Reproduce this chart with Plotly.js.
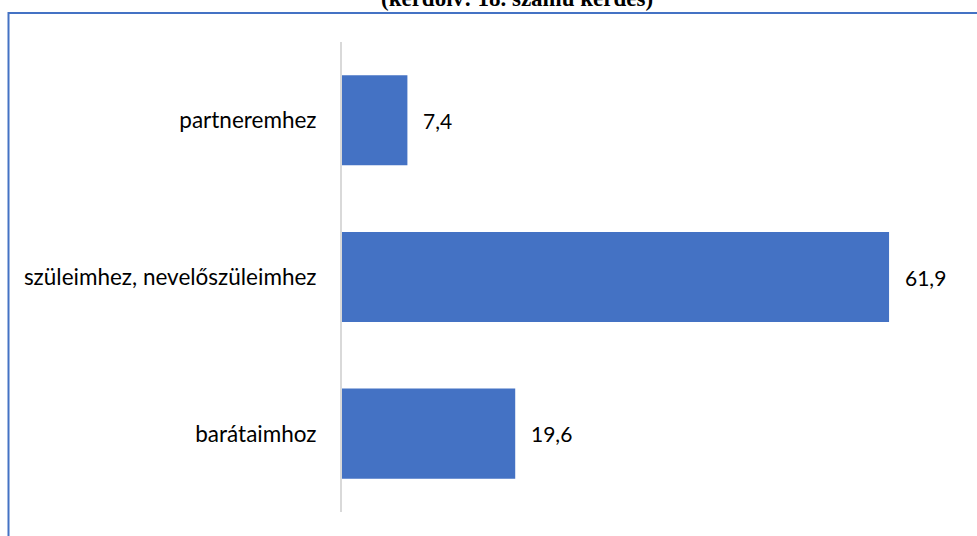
<!DOCTYPE html>
<html>
<head>
<meta charset="utf-8">
<script src="https://cdn.plot.ly/plotly-3.0.1.min.js"></script>
<style>html,body{margin:0;padding:0;background:#fff;}#chart{width:977px;height:536px;}</style>
</head>
<body>
<div id="chart"></div>
<script>
var categories = ["partneremhez", "szüleimhez, nevelőszüleimhez", "barátaimhoz"];
var values = [7.4, 61.9, 19.6];
var titleText = "(kérdőív: 18. számú kérdés)";

var W = 977, H = 536, L = 342, R = 19, T = 42, B = 24;
var PW = W - L - R, PH = H - T - B;
function px2x(p){ return (p - L) / PW; }
function py2y(p){ return (H - B - p) / PH; }

var labels = values.map(function(v){ return v.toFixed(1).replace('.', ','); });

var annotations = values.map(function(v, i){
  return {x: v, y: categories[i], xref: 'x', yref: 'y', text: labels[i], showarrow: false,
    xanchor: 'left', yanchor: 'middle', xshift: 14,
    font: {family: 'Lato, "Liberation Sans", sans-serif', size: 21, color: '#000'}};
});
annotations.push({x: px2x(517), y: py2y(13), xref: 'paper', yref: 'paper', text: '<b>' + titleText + '</b>',
  showarrow: false, xanchor: 'center', yanchor: 'bottom',
  font: {family: '"Liberation Serif", "Times New Roman", serif', size: 23, color: '#000'}});

var trace = {type: 'bar', orientation: 'h', x: values, y: categories,
  marker: {color: '#4472C4'}, hoverinfo: 'none'};

var layout = {
  width: W, height: H,
  margin: {l: L, r: R, t: T, b: B, pad: 0},
  paper_bgcolor: '#ffffff', plot_bgcolor: '#ffffff',
  showlegend: false,
  bargap: 0.425,
  xaxis: {range: [0, 69.7], showgrid: false, zeroline: false, showticklabels: false, showline: false, fixedrange: true},
  yaxis: {autorange: 'reversed', showgrid: false, zeroline: false, showline: true, linecolor: '#d9d9d9', linewidth: 2,
    ticks: 'outside', ticklen: 19, tickcolor: 'rgba(0,0,0,0)',
    tickfont: {family: 'Lato, "Liberation Sans", sans-serif', size: 22.5, color: '#000'}},
  annotations: annotations,
  shapes: [{type: 'path', xref: 'paper', yref: 'paper',
    path: 'M ' + px2x(8.5) + ' ' + py2y(540) + ' L ' + px2x(8.5) + ' ' + py2y(13) + ' L ' + px2x(990) + ' ' + py2y(13),
    line: {color: '#4472C4', width: 2}, layer: 'above'}]
};

Plotly.newPlot('chart', [trace], layout, {displayModeBar: false, staticPlot: true});
</script>
</body>
</html>
